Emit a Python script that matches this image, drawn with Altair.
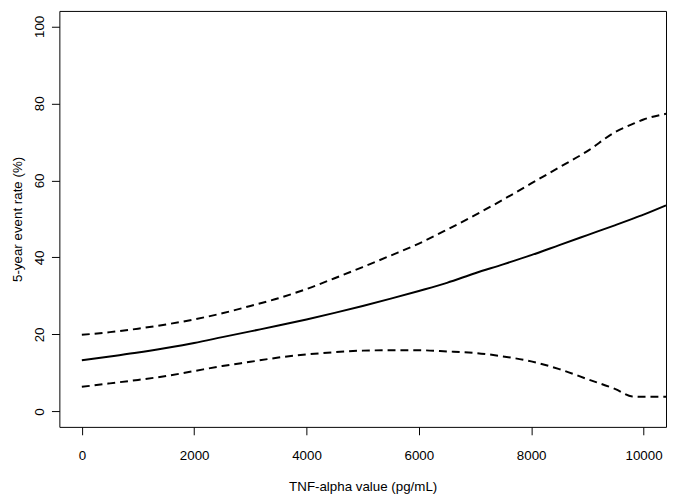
import altair as alt
import pandas as pd

# TNF-alpha values (pg/mL)
x_vals = [0, 500, 1000, 1500, 2000, 2500, 3000, 3500, 4000, 4500, 5000, 5500,
          6000, 6500, 7000, 7500, 8000, 8500, 9000, 9500, 9800, 10000, 10400]
# 5-year event rate estimate (%)
est = [13.3, 14.3, 15.3, 16.5, 17.8, 19.3, 20.8, 22.3, 23.9, 25.6, 27.4, 29.3,
       31.3, 33.4, 35.9, 38.2, 40.6, 43.2, 45.8, 48.4, 50.0, 51.1, 53.5]
# upper confidence limit (%)
upper = [19.9, 20.6, 21.5, 22.6, 23.9, 25.5, 27.4, 29.4, 31.8, 34.6, 37.5, 40.5,
         43.6, 47.2, 51.0, 55.0, 59.2, 63.4, 67.6, 72.6, 74.6, 75.8, 77.3]
# lower confidence limit (%)
lower = [6.4, 7.3, 8.2, 9.2, 10.5, 11.8, 12.9, 14.0, 14.8, 15.4, 15.8, 15.9,
         15.9, 15.6, 15.2, 14.3, 13.0, 11.0, 8.4, 5.8, 3.9, 3.8, 3.8]

x_ticks = [0, 2000, 4000, 6000, 8000, 10000]
y_ticks = [0, 20, 40, 60, 80, 100]

df_est = pd.DataFrame({"x": x_vals, "y": est})
df_up = pd.DataFrame({"x": x_vals, "y": upper})
df_lo = pd.DataFrame({"x": x_vals, "y": lower})

FONT = "Liberation Sans"

xenc = alt.X("x:Q",
             scale=alt.Scale(domain=[-400, 10400], nice=False, zero=False),
             axis=alt.Axis(values=x_ticks, title="TNF-alpha value (pg/mL)",
                           grid=False, domain=False, tickSize=8, tickColor="black",
                           labelPadding=25, labelBaseline="alphabetic",
                           labelFontSize=13.5, labelColor="black", labelFont=FONT,
                           titleFontSize=13.5, titleFont=FONT, titleFontWeight="normal",
                           titleColor="black", titleBaseline="alphabetic", titleY=64,
                           format="d", labelFlush=False))
yenc = alt.Y("y:Q",
             scale=alt.Scale(domain=[-4, 104], nice=False, zero=False),
             axis=alt.Axis(values=y_ticks, title="5-year event rate (%)",
                           grid=False, domain=False, tickSize=8, tickColor="black",
                           labelAngle=-90, labelAlign="center", labelBaseline="alphabetic",
                           labelPadding=8.5, labelFontSize=13.5, labelColor="black",
                           labelFont=FONT, titleFontSize=13.5, titleFont=FONT,
                           titleFontWeight="normal", titleColor="black",
                           titleBaseline="alphabetic", titleX=-38, titleAngle=270,
                           labelFlush=False))

solid = alt.Chart(df_est).mark_line(color="black", strokeWidth=2, interpolate="monotone").encode(x=xenc, y=yenc)
up = alt.Chart(df_up).mark_line(color="black", strokeWidth=2, strokeDash=[8, 5], interpolate="monotone").encode(x=xenc, y=yenc)
lo = alt.Chart(df_lo).mark_line(color="black", strokeWidth=2, strokeDash=[8, 5], interpolate="monotone").encode(x=xenc, y=yenc)

chart = alt.layer(solid, up, lo).properties(
    width=614, height=421,
    autosize=alt.AutoSizeParams(type="none"),
    padding={"left": 52, "top": 0, "right": 1, "bottom": 68},
    background="white",
).configure_view(stroke="black", strokeWidth=1)

chart.save("out.html", embed_options={"renderer": "svg", "actions": False})
